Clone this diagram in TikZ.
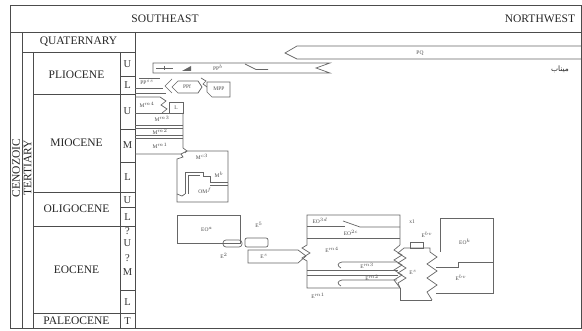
\documentclass[tikz,border=0pt]{standalone}
\usepackage{fontspec}
\setmainfont{Liberation Serif}
\newfontfamily\arabicfont[Script=Arabic]{DejaVu Sans}
\TeXXeTstate=1
\usetikzlibrary{arrows.meta, positioning, calc}

\tikzset{
  tabline/.style={line width=0.9pt, black!70},
  unit/.style={line width=0.7pt, black!60},
  epoch/.style={font=\fontsize{11.5}{12}\selectfont, black!85, inner sep=0pt},
  sub/.style={font=\fontsize{10.5}{11}\selectfont, black!80, inner sep=0pt},
  lbl/.style={font=\fontsize{5.5}{6}\selectfont, black!70, inner sep=0pt},
}

\begin{document}
\begin{tikzpicture}[>=Stealth, x=1pt, y=-1pt]
  \useasboundingbox (0,0) rectangle (582,331);

  % Frame and header
  \draw[tabline] (10,5) rectangle (581,328);
  \draw[tabline] (10,32) -- (581,32);
  \node[epoch] (se) at (165,19) {SOUTHEAST};
  \node[epoch] (nw) at (540,19) {NORTHWEST};

  % Time scale
  \draw[tabline] (22,32) -- (22,328);
  \draw[tabline] (33,52) -- (33,328);
  \draw[tabline] (120,52) -- (120,328);
  \draw[tabline] (135,32) -- (135,328);
  \draw[tabline] (22,52) -- (135,52);
  \foreach \y in {94,192,226,313}
    \draw[tabline] (33,\y) -- (135,\y);
  \foreach \y in {76,129,162,207,290}
    \draw[tabline] (120,\y) -- (135,\y);

  \node[epoch] (quat) at (78.5,42) {QUATERNARY};
  \node[epoch] (plio) at (76.5,75) {PLIOCENE};
  \node[epoch] (mio) at (76.5,143) {MIOCENE};
  \node[epoch] (oligo) at (76.5,209) {OLIGOCENE};
  \node[epoch] (eoc) at (76.5,270) {EOCENE};
  \node[epoch] (paleo) at (76.5,320.5) {PALEOCENE};
  \node[epoch, rotate=90] (ceno) at (16,168) {CENOZOIC};
  \node[epoch, rotate=90] (tert) at (27.5,168) {TERTIARY};

  \foreach \t/\y [count=\i] in {U/64, L/85, U/111, M/145, L/177, U/200, L/217,
                                 ?/231, U/243, ?/258, M/272, L/302, T/321}
    \node[sub] (sub\i) at (127.5,\y) {\t};

  % Pliocene - Quaternary
  \draw[unit] (581,46) -- (297,46) -- (285,53) -- (297,59) -- (581,59);
  \node[lbl] (pq) at (420,53) {PQ};
  \node[font=\arabicfont\fontsize{7.5}{8}\selectfont, black!85] (minab) at (560,69) {\beginR میناب\endR};

  \draw[unit] (153,63) -- (330,63) -- (316,68) -- (330,73) -- (153,73) -- cycle;
  \draw[unit] (156,68) -- (173,68);
  \draw[unit] (164,66) -- (164,70);
  \fill[black!60] (182,71) -- (191,66) -- (191,71) -- cycle;
  \node[lbl] (ppb) at (218,68) {PP$^{b}$};
  \draw[unit] (245,64) -- (256,69.5) -- (268,69.5);

  \node[lbl] (ppss) at (147,82.5) {PP$^{ss}$};
  \draw[unit] (139,78) -- (160,78);
  \draw[unit] (135,88) -- (163,88);
  \draw[unit] (135,93) -- (166,93);
  \draw[unit] (172,79) -- (165,86) -- (172,93);
  \draw[unit] (178,81) -- (198,81) -- (202,87) -- (198,93) -- (178,93) -- (172,87) -- cycle;
  \node[lbl] (ppf) at (187,87) {PPf};
  \draw[unit] (201,78) -- (206,81) -- (203,84) -- (207,87);
  \draw[unit] (207,82) -- (230,82) -- (230,97) -- (212,97) -- (207,92) -- cycle;
  \node[lbl] (mpp) at (219,89) {MPP};

  % Miocene
  \draw[unit] (135,97) -- (160,97) -- (166,101) -- (161,105) -- (167,109) -- (162,113);
  \node[lbl] (mm4) at (147,105) {M$^{m4}$};
  \draw[unit] (169,102) rectangle (183,113);
  \node[lbl] (mc) at (176,107.5) {L};
  \foreach \y in {113,125,128,135,138}
    \draw[unit] (135,\y) -- (183,\y);
  \draw[unit] (183,113) -- (183,148) -- (187,151) -- (181,154) -- (135,154);
  \node[lbl] (mm3) at (162,119) {M$^{m3}$};
  \node[lbl] (mm2) at (160,131.5) {M$^{m2}$};
  \node[lbl] (mm1) at (160,146) {M$^{m1}$};

  \draw[unit] (185,153) -- (187,151) -- (228,151) -- (228,202) -- (177,202)
              -- (177,159) -- (183,157) -- (181,154);
  \node[lbl] (mc3) at (202,157) {M$^{c3}$};
  \draw[unit] (185,194) -- (185,172) -- (203,172) -- (203,176) -- (210,176)
              -- (210,182) -- (228,182);
  \draw[unit] (188,194) -- (188,175) -- (200,175);
  \draw[unit] (210,185) -- (228,185);
  \draw[unit] (177,194) -- (182,196) -- (185,194);
  \node[lbl] (mb) at (219,175) {M$^{b}$};
  \node[lbl] (omf) at (205,191) {OM$^{f}$};

  % Eocene
  \draw[unit] (177,215) rectangle (240,243);
  \node[lbl] (eoa) at (207,229) {EO$^{a}$};
  \draw[unit, rounded corners=3pt] (223,240) rectangle (242,247);
  \node[lbl] (e2) at (224,256) {E$^{2}$};
  \draw[unit, rounded corners=2pt] (245,238) rectangle (268,247);
  \node[lbl] (e5) at (259,225) {E$^{5}$};
  \draw[unit] (248,250) -- (298,250) -- (306,256) -- (298,263) -- (248,263) -- cycle;
  \node[lbl] (es) at (264,256) {E$^{s}$};

  \draw[unit] (400,245) -- (400,215) -- (307,215) -- (307,245) -- (302,248)
              -- (310,253) -- (302,258) -- (307,261) -- (307,288) -- (400,288);
  \draw[unit] (307,226) -- (345,226);
  \draw[unit] (343,221) -- (360,227) -- (400,227);
  \draw[unit] (307,238) -- (400,238);
  \node[lbl] (eo3d) at (320,220.5) {EO$^{3d}$};
  \node[lbl] (eo2c) at (351,233) {EO$^{2c}$};
  \node[lbl] (em4) at (332,250) {E$^{m4}$};
  \draw[unit] (397,262) -- (342,262) .. controls (337,263) and (337,266) .. (341,268);
  \node[lbl] (em3) at (367,266) {E$^{m3}$};
  \draw[unit] (307,270) -- (398,270);
  \draw[unit] (307,275) -- (398,275);
  \draw[unit] (397,280) -- (342,280) .. controls (337,281) and (337,284) .. (341,286);
  \node[lbl] (em2) at (372,278) {E$^{m2}$};
  \node[lbl] (em1) at (318,296) {E$^{m1}$};

  \draw[unit] (400,245) -- (394,250) -- (402,255) -- (394,260) -- (402,265)
              -- (394,270) -- (402,275) -- (394,280) -- (400,288);
  \draw[unit] (404,248) -- (398,253) -- (406,258) -- (398,263) -- (406,268)
              -- (398,273) -- (406,278) -- (398,283) -- (400,288);
  \draw[unit] (400,288) -- (400,300) -- (432,300);
  \draw[unit] (404,248) -- (430,248) -- (430,252) -- (437,257) -- (427,264)
              -- (437,271) -- (427,278) -- (437,285) -- (427,292) -- (432,300);
  \draw[unit] (410,248) rectangle (423,242);
  \node[lbl] (x1) at (412,222) {x1};
  \node[lbl] (ebv1) at (427,235) {E$^{bv}$};
  \node[lbl] (es2) at (413,272) {E$^{s}$};

  \draw[unit] (440,252) -- (440,218) -- (493,218) -- (493,293) -- (436,293);
  \draw[unit] (436,267) -- (458,267) -- (458,262) -- (493,262);
  \node[lbl] (eok) at (465,242) {EO$^{k}$};
  \node[lbl] (ebv2) at (461,278) {E$^{bv}$};
\end{tikzpicture}
\end{document}
